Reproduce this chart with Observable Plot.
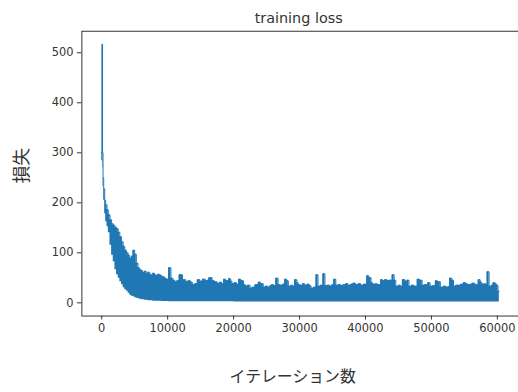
<!DOCTYPE html>
<html>
<head>
<meta charset="utf-8">
<script src="https://cdn.jsdelivr.net/npm/d3@7"></script>
<script src="https://cdn.jsdelivr.net/npm/@observablehq/plot@0.6"></script>
<style>
  html, body { margin: 0; padding: 0; background: white; overflow: hidden; }
  #chart { width: 518px; height: 392px; overflow: hidden; }
</style>
</head>
<body>
<div id="chart"></div>
<script>
// iteration breakpoints (step-after) with upper and lower envelope of the loss band
const iterations = [
  0, 60, 130, 200, 300, 450, 600, 800, 1000, 1250, 1500, 1750, 2000, 2250, 2500, 2750,
  3000, 3250, 3500, 3750, 4000, 4250, 4500, 4750, 5000, 5250, 5500, 5750, 6000, 6250,
  6500, 6750, 7000, 7250, 7500, 7750, 8000, 8250, 8500, 8750, 9100, 9500, 9800, 10150,
  10500, 10800, 11100, 11400, 11750, 12250, 12750, 13100, 13450, 13750, 14100, 14500,
  14900, 15300, 15700, 16000, 16250, 16750, 17100, 17500, 17900, 18200, 18500, 18800,
  19250, 19550, 19750, 20100, 20450, 20750, 21100, 21500, 21800, 22100, 22500, 22800,
  23250, 23750, 24100, 24500, 24800, 25200, 25500, 25750, 26100, 26400, 26750, 27100,
  27450, 27750, 28050, 28300, 28700, 29000, 29250, 29600, 29800, 30100, 30450, 30800,
  31150, 31500, 31750, 32100, 32500, 32800, 33150, 33550, 33850, 34200, 34600, 34900,
  35200, 35500, 35900, 36300, 36600, 37000, 37350, 37750, 38100, 38500, 38900, 39300,
  39700, 40200, 40500, 40850, 41100, 41500, 41800, 42300, 42600, 42900, 43300, 43600,
  44050, 44350, 44600, 45000, 45300, 45600, 46000, 46300, 46600, 47000, 47350, 47850,
  48200, 48600, 48950, 49450, 49800, 50150, 50600, 50900, 51350, 51800, 52200, 52500,
  52750, 53100, 53350, 53700, 54100, 54450, 54850, 55200, 55500, 55850, 56200, 56600,
  57100, 57400, 57650, 58000, 58250, 58450, 58750, 59100, 59350, 59650, 59850, 60100, 60300
];
const upperLoss = [
  300, 517, 300, 250, 228, 205, 196, 186, 176, 166, 158, 155, 151, 148, 141, 132,
  122, 113, 105, 100, 95, 89, 93, 105, 97, 79, 70, 66, 64, 60,
  63, 58, 61, 57, 55, 59, 56, 54, 57, 55, 52, 49, 47, 70,
  49, 45, 42, 44, 56, 46, 42, 44, 41, 36, 38, 46,
  43, 47, 44, 45, 50, 44, 42, 39, 41, 38, 47, 44,
  48, 43, 38, 40, 37, 47, 44, 36, 33, 35, 29, 31,
  36, 41, 38, 31, 33, 31, 34, 36, 34, 49, 36, 35,
  37, 47, 44, 33, 35, 33, 46, 40, 36, 35, 38, 35,
  37, 34, 29, 31, 56, 33, 35, 58, 34, 35, 33, 36,
  47, 35, 36, 34, 36, 38, 35, 37, 39, 36, 38, 35,
  37, 54, 50, 40, 37, 38, 36, 46, 44, 46, 44, 45,
  56, 45, 33, 35, 33, 46, 43, 45, 33, 35, 33, 47,
  45, 35, 36, 40, 33, 34, 44, 42, 31, 33, 31, 32,
  49, 45, 33, 35, 35, 37, 40, 38, 36, 37, 39, 36,
  46, 41, 37, 38, 36, 62, 33, 35, 40, 38, 35, 23, 23
];
const lowerLoss = [
  284, 284, 270, 232, 205, 178, 162, 152, 140, 115, 95, 82, 66, 56, 49, 42,
  36, 30, 26, 23, 19, 15, 13, 12, 10, 9, 8, 7, 6, 6,
  5, 5, 4, 4, 4, 3, 3, 3, 3, 3, 2.5, 2.5, 2.5, 2,
  2, 2, 2, 2, 2, 2, 2, 2, 2, 2, 2, 2,
  2, 2, 2, 2, 2, 2, 2, 2, 2, 2, 2, 2,
  2, 2, 2, 1.5, 1.5, 1.5, 1.5, 1.5, 1.5, 1.5, 1.5, 1.5,
  1.5, 1.5, 1.5, 1.5, 1.5, 1.5, 1.5, 1.5, 1.5, 1.5, 1.5, 1.5,
  1.5, 1.5, 1.5, 1.5, 1.5, 1.5, 1.5, 1.5, 1.5, 1.5, 1.5, 1.5,
  1.5, 1.5, 1.5, 1.5, 1.5, 1.5, 1.5, 1.5, 1.5, 1.5, 1.5, 1.5,
  1.5, 1.5, 1.5, 1.5, 1.5, 1.5, 1.5, 1.5, 1.5, 1.5, 1.5, 1.5,
  1.5, 1.5, 1.5, 1.5, 1.5, 1.5, 1.5, 1.5, 1.5, 1.5, 1.5, 1.5,
  1.5, 1.5, 1.5, 1.5, 1.5, 1.5, 1.5, 1.5, 1.5, 1.5, 1.5, 1.5,
  1.5, 1.5, 1.5, 1.5, 1.5, 1.5, 1.5, 1.5, 1.5, 1.5, 1.5, 1.5,
  1.5, 1.5, 1.5, 1.5, 1.5, 1.5, 1.5, 1.5, 1.5, 1.5, 1.5, 1.5,
  1.5, 1.5, 1.5, 1.5, 1.5, 1.5, 1.5, 1.5, 1.5, 1.5, 1.5, 1.5, 1.5
];
const xTicks = [0, 10000, 20000, 30000, 40000, 50000, 60000];
const yTicks = [0, 100, 200, 300, 400, 500];
const titleText = "training loss";
const xLabel = "イテレーション数";
const yLabel = "損失";

const rows = iterations.map((it, i) => ({ it, hi: upperLoss[i], lo: lowerLoss[i] }));

const blue = "#1f77b4";
const ink = "#333333";

const svg = Plot.plot({
  width: 522,
  height: 392,
  marginLeft: 82,
  marginRight: 0,
  marginTop: 31,
  marginBottom: 74,
  style: { fontFamily: "DejaVu Sans, sans-serif", fontSize: "11.5px", color: ink, background: "white" },
  x: { domain: [-3010, 63205] },
  y: { domain: [-26.4, 543] },
  marks: [
    Plot.areaY(rows, { x: "it", y1: "lo", y2: "hi", curve: "step-after", fill: blue }),
    Plot.lineY(rows, { x: "it", y: "hi", curve: "step-after", stroke: blue, strokeWidth: 1 }),
    Plot.frame({ stroke: ink, strokeWidth: 1 }),
    Plot.axisX(xTicks, { tickSize: 4, tickPadding: 4, label: null, tickFormat: d => String(d), stroke: ink }),
    Plot.axisY(yTicks, { tickSize: 4.5, tickPadding: 4, label: null, tickFormat: d => String(d), stroke: ink })
  ]
});

const s = d3.select(svg);
s.append("text")
  .attr("x", 301).attr("y", 23)
  .attr("text-anchor", "middle")
  .style("font-family", "DejaVu Sans, sans-serif")
  .style("font-size", "14.5px")
  .attr("fill", ink)
  .text(titleText);
s.append("text")
  .attr("x", 295).attr("y", 385)
  .attr("text-anchor", "middle")
  .style("font-family", "'Noto Sans CJK JP', sans-serif")
  .style("font-size", "16px")
  .attr("fill", ink)
  .text(xLabel);
s.append("text")
  .attr("transform", "translate(20,167) rotate(-90)")
  .attr("text-anchor", "middle")
  .attr("dominant-baseline", "central")
  .style("font-family", "'Noto Sans CJK JP', sans-serif")
  .style("font-size", "18px")
  .attr("fill", ink)
  .text(yLabel);

document.getElementById("chart").appendChild(svg);
</script>
</body>
</html>
